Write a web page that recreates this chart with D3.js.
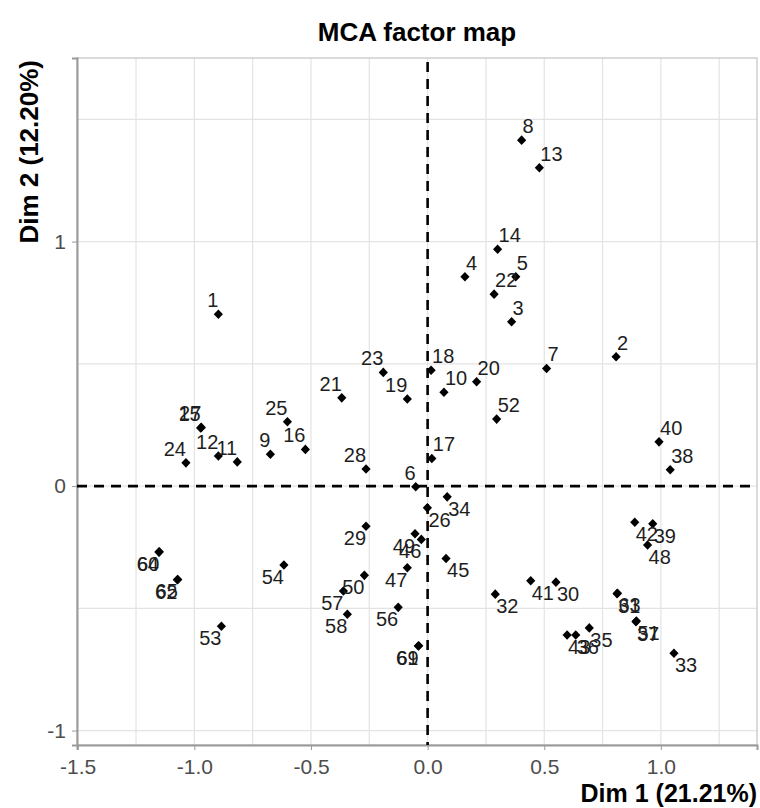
<!DOCTYPE html>
<html lang="en">
<head>
<meta charset="UTF-8">
<title>MCA factor map</title>
<script src="https://cdnjs.cloudflare.com/ajax/libs/d3/7.8.5/d3.min.js"></script>
<style>
    body { margin: 0; background: #fff; font-family: 'Liberation Sans', Arial, sans-serif; }
    .grid line { stroke: #e3e3e3; stroke-width: 1.2px; }
    .axis text { fill: #4d4d4d; font-size: 21px; font-family: 'Liberation Sans', Arial, sans-serif; }
    .axis line, .axis path { stroke: #9a9a9a; }
    .lbl { fill: #1e1e1e; font-size: 20px; }
    .ttl { font-weight: 700; fill: #000; }
</style>
</head>
<body>
<div id="chart"></div>
<script>
// individuals on the first two dimensions
const ids = ["1","2","3","4","5","6","7","8","9","10","11","12","13","14","15","16","17","18","19","20",
    "21","22","23","24","25","26","27","28","29","30","31","32","33","34","35","36","37","38","39","40",
    "41","42","43","45","46","47","48","49","50","51","52","53","54","56","57","58","60","61","62","63",
    "64","65","69"];
const dim1 = [-0.897,0.808,0.360,0.160,0.378,-0.051,0.510,0.403,-0.674,0.070,-0.816,-0.897,0.479,0.300,-0.973,-0.524,0.018,0.015,-0.087,0.210,
    -0.368,0.285,-0.190,-1.036,-0.601,-0.001,-0.970,-0.264,-0.264,0.550,0.812,0.290,1.056,0.084,0.693,0.635,0.893,1.040,0.965,0.992,
    0.442,0.888,0.598,0.079,-0.027,-0.087,0.943,-0.054,-0.271,0.895,0.296,-0.884,-0.616,-0.126,-0.361,-0.344,-1.150,-0.040,-1.073,0.814,
    -1.152,-1.071,-0.038];
const dim2 = [0.703,0.529,0.672,0.856,0.856,-0.003,0.481,1.415,0.130,0.384,0.099,0.123,1.302,0.969,0.238,0.150,0.113,0.474,0.356,0.427,
    0.361,0.785,0.465,0.095,0.263,-0.089,0.240,0.070,-0.164,-0.393,-0.440,-0.442,-0.684,-0.044,-0.580,-0.609,-0.555,0.067,-0.154,0.181,
    -0.387,-0.148,-0.609,-0.296,-0.218,-0.334,-0.241,-0.195,-0.365,-0.552,0.274,-0.573,-0.323,-0.496,-0.429,-0.524,-0.269,-0.654,-0.383,-0.438,
    -0.270,-0.382,-0.653];
// which side of the point the label sits on
const labelSide = ["ul","ur","ur","ur","ur","ul","ur","ur","ul","ur","ul","ul","ur","ur","ul","ul","ur","ur","ul","ur",
    "ul","ur","ul","ul","ul","lr","ul","ul","ll","lr","lr","lr","lr","lr","lr","lr","lr","ur","lr","ur",
    "lr","lr","lr","lr","ll","ll","lr","ll","ll","lr","ur","ll","ll","ll","ll","ll","ll","ll","ll","lr",
    "ll","ll","ll"];

const xTicks = [-1.5, -1.0, -0.5, 0.0, 0.5, 1.0];
const yTicks = [-1, 0, 1];
const xDomain = [-1.503, 1.412];
const yDomain = [-1.059, 1.751];

const width = 760, height = 808;
const margin = {top: 58, right: 3, bottom: 63, left: 77};

const svg = d3.select("#chart").append("svg")
    .attr("width", width)
    .attr("height", height);

const x = d3.scaleLinear().domain(xDomain).range([margin.left, width - margin.right]);
const y = d3.scaleLinear().domain(yDomain).range([height - margin.bottom, margin.top]);

// grid: x every 0.25, y every 0.5
const grid = svg.append("g").attr("class", "grid");
grid.selectAll(".gx").data(d3.range(-1.25, 1.4, 0.25)).enter().append("line")
    .attr("x1", d => x(d)).attr("x2", d => x(d))
    .attr("y1", y.range()[1]).attr("y2", y.range()[0]);
grid.selectAll(".gy").data(d3.range(-1, 1.6, 0.5)).enter().append("line")
    .attr("x1", x.range()[0]).attr("x2", x.range()[1])
    .attr("y1", d => y(d)).attr("y2", d => y(d));

// panel border
svg.append("rect")
    .attr("x", x.range()[0]).attr("y", y.range()[1])
    .attr("width", x.range()[1] - x.range()[0])
    .attr("height", y.range()[0] - y.range()[1])
    .attr("fill", "none").attr("stroke", "#c4c4c4").attr("stroke-width", 1.2);

// axes
const xAxis = svg.append("g").attr("class", "axis")
    .attr("transform", `translate(0,${y.range()[0]})`)
    .call(d3.axisBottom(x).tickValues(xTicks).tickFormat(d3.format(".1f")).tickSize(5).tickPadding(6));
xAxis.select(".domain").attr("stroke-width", 2);
xAxis.selectAll("text").attr("dy", "0.85em");

const yAxis = svg.append("g").attr("class", "axis")
    .attr("transform", `translate(${x.range()[0]},0)`)
    .call(d3.axisLeft(y).tickValues(yTicks).tickFormat(d3.format("d")).tickSize(5).tickPadding(6));
yAxis.select(".domain").attr("stroke-width", 2);
yAxis.selectAll("text").text(d => d < 0 ? "-" + Math.abs(d) : d);
xAxis.selectAll("text").text(d => d3.format(".1f")(d).replace("\u2212", "-"));

// zero reference lines
svg.append("line")
    .attr("x1", x(0)).attr("x2", x(0))
    .attr("y1", y.range()[1] + 4).attr("y2", y.range()[0])
    .attr("stroke", "#000").attr("stroke-width", 2.6).attr("stroke-dasharray", "10,7");
svg.append("line")
    .attr("x1", x.range()[0]).attr("x2", x.range()[1] - 4)
    .attr("y1", y(0)).attr("y2", y(0))
    .attr("stroke", "#000").attr("stroke-width", 2.6).attr("stroke-dasharray", "10,7");

const pts = ids.map((id, i) => ({id, d1: dim1[i], d2: dim2[i], side: labelSide[i]}));

// points (filled diamonds)
svg.append("g").selectAll("path").data(pts).enter().append("path")
    .attr("transform", d => `translate(${x(d.d1)},${y(d.d2)})`)
    .attr("d", "M0,-4.8L4.6,0L0,4.8L-4.6,0Z")
    .attr("fill", "#000");

// labels
svg.append("g").selectAll("text").data(pts).enter().append("text")
    .attr("class", "lbl")
    .attr("x", d => x(d.d1) + (d.side[1] === "r" ? 1 : 0))
    .attr("y", d => y(d.d2) + (d.side[0] === "u" ? -7 : 19))
    .attr("text-anchor", d => d.side[1] === "r" ? "start" : "end")
    .text(d => d.id);

// titles
svg.append("text").attr("class", "ttl")
    .attr("x", (x.range()[0] + x.range()[1]) / 2).attr("y", 41)
    .attr("text-anchor", "middle").style("font-size", "26px")
    .text("MCA factor map");

svg.append("text").attr("class", "ttl")
    .attr("x", x.range()[1]).attr("y", 802)
    .attr("text-anchor", "end").style("font-size", "25px")
    .text("Dim 1 (21.21%)");

svg.append("text").attr("class", "ttl")
    .attr("transform", `translate(38,${y.range()[1] + 2}) rotate(-90)`)
    .attr("text-anchor", "end").style("font-size", "26px")
    .text("Dim 2 (12.20%)");
</script>
</body>
</html>
